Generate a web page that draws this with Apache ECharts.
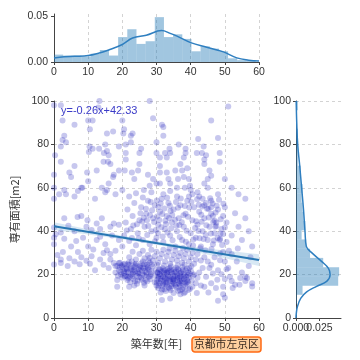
<!DOCTYPE html>
<html><head><meta charset="utf-8">
<script src="https://cdn.jsdelivr.net/npm/echarts@6/dist/echarts.min.js"></script>
<style>html,body{margin:0;padding:0;background:#fff}#c{width:360px;height:360px}</style>
</head><body><div id="c"></div>
<script>
// ---- data ----
const xTicks = [0, 10, 20, 30, 40, 50, 60];
const yTicks = [0, 20, 40, 60, 80, 100];
const regressionText = 'y=-0.26x+42.33';
const regX = [0, 60];
const regY = [42.33, 26.73];
const bandX = [0, 10, 20, 30, 40, 50, 60];
const bandLow = [40.5, 38.5, 36.3, 33.8, 30.9, 27.5, 24.0];
const bandHigh = [44.1, 40.9, 37.9, 35.2, 32.9, 31.1, 29.4];
const topBinEdges = [0,2.68,5.36,8.05,10.73,13.41,16.09,18.77,21.45,24.14,26.82,29.5,32.18,34.86,37.55,40.23,42.91,45.59,48.27,50.95,53.64,56.32,59];
const topDensity = [0.008,0.007,0.007,0.006,0.009,0.013,0.007,0.027,0.0355,0.0196,0.0225,0.0486,0.027,0.030,0.025,0.0116,0.017,0.0145,0.0116,0.004,0.002,0.002];
const topKdeX = [0,3,6,10,13,16,20,23,27,31.5,34,36,40,44.7,49.6,53.5,57,60];
const topKdeY = [0.0043,0.0058,0.0062,0.007,0.0095,0.013,0.019,0.026,0.029,0.034,0.031,0.028,0.021,0.016,0.011,0.0045,0.002,0.001];
const rightBinEdges = [6.4,10.7,14.9,19.2,23.4,27.7,31.9,36.2,40.4,44.7,48.9,53.2,57.4,61.7,65.9,70.2,74.4,78.7,82.9,87.2,91.4,95.7,100];
const rightDensity = [0.001,0.007,0.045,0.046,0.029,0.015,0.011,0.006,0.010,0.008,0.007,0.006,0.007,0.005,0.005,0.002,0.002,0.002,0.002,0.001,0.001,0.002];
const rightKdeY = [0,2,5,9,12,14.6,17,20,22.9,26,30,33,40,50,60,70,80,90,100];
const rightKdeX = [0,0.0003,0.0014,0.005,0.0114,0.022,0.033,0.0364,0.0346,0.0275,0.017,0.011,0.0096,0.008,0.006,0.004,0.0018,0.0008,0.0002];
const topDensityTicks = [0, 0.05];
const rightDensityTickA = [0];
const rightDensityTickB = [0.025];

const points = [
[30,15],[30.2,17.5],[30.5,19],[30.3,21],[30.8,22.5],[31,16],[31.2,18],[31,20],[31.5,21.5],[31.7,14.5],[32,17],[32,19],[32.2,20.5],[32.5,22],[32.6,15.5],[33,18],[33,16.5],[33.2,20],[33.5,21.5],[33.6,14],[34,17],[34,19],[34.2,22],[34.5,15.5],[34.6,20.5],[35,18],[35,16],[35.2,21],[35.5,19.5],[35.6,14.5],[36,17.5],[36.1,20],[36.3,22.5],[36.5,16],[36.7,18.5],[37,15],[37,19.5],[37.2,21],[37.5,17],[37.8,14],[38,18],[38,20.5],[38.3,16.5],[38.5,22],[38.7,19],[39,15.5],[39,17.5],[39.3,21],[39.5,18.5],[39.8,13.5],[30.6,18.2],[31.4,19.3],[32.4,18.6],[33.4,19.1],[34.3,18.1],[35.3,17.2],[36.2,19.1],[37.3,18.1],[38.2,19.6],[32.8,16.2],[34.8,16.8],[36.8,17.1],[31.8,22.9],[33.8,23],[35.8,23.2],[37.6,23.4],[39.6,23],[30.4,13.8],[32.3,13.2],[34.1,12.8],[36.4,12.5],[38.4,12],[35,11.5],[37,11],[31.2,11.8],[33.1,21],[35.7,21.6],[38.8,16.2],[30.9,20.3],[32.9,20.8],[34.9,19.3],[36.9,20.7],[39.2,19.8],[29.5,16.5],[29.6,19.5],[29.8,22],
[30.1,16.3],[30.7,14.9],[31.3,17.1],[31.9,15.8],[32.5,18.1],[33.1,15.1],[33.7,17.6],[34.3,14.7],[34.9,17.9],[35.5,15.3],[36.1,18.4],[36.7,15.7],[37.3,16.3],[37.9,19.1],[38.5,14.8],[39.1,16.8],[39.7,20.4],[40.3,17.2],[40.8,19.6],[30.3,20.8],[31.1,22.2],[32.1,21.7],[33.3,22.6],[34.4,21.3],[35.1,22.4],[36.6,21.8],[37.7,22.1],[38.9,22.8],[40.1,21.5],[31.6,13.1],[33.9,13.6],[35.9,13.9],[37.5,13.3],[39.4,12.9],[32.7,12.4],[36.9,12.8],
[18.5,24],[19,22],[19.3,25.5],[19.6,20],[20,23.5],[20,18.5],[20.4,21.5],[20.7,25],[21,19.5],[21.2,23],[21.5,17.5],[21.8,21],[22,24.5],[22.2,19],[22.5,22.5],[22.8,26],[23,20.5],[23.2,18],[23.5,23.5],[23.8,21.5],[24,25],[24.2,19.5],[24.5,17.2],[24.8,22.5],[25,20.5],[25.2,24],[25.5,18.5],[25.8,21.8],[26,26],[26.2,23],[26.5,19.5],[26.8,17.5],[27,21],[27.2,24.5],[27.5,22.5],[27.8,19],[28,25.5],[28.2,17.8],[28.5,21.5],[28.8,23.8],[19.8,24.2],[21.6,24.8],[23.6,24.6],[25.6,25.2],[27.6,26.4],[20.6,19.2],[22.6,20.1],[24.6,20.6],[26.6,21.7],[28.4,20.2],[18.7,19.5],[22.3,16.5],[24.3,15.8],[26.3,16.2],[21.4,22.3],[23.4,22.1],[25.4,22.9],[27.4,23.3],
[19.2,23.3],[20.3,24.6],[21.1,21.2],[21.9,25.6],[22.4,23.2],[23.1,19.3],[23.9,24.1],[24.4,21.1],[25.1,23.4],[25.9,20.2],[26.4,24.8],[27.1,19.9],[27.9,22.1],[28.6,24.6],[20.8,22.6],[22.9,21.9],[24.9,18.8],[26.9,23.7],[28.1,19.3],[19.5,21.1],[21.7,18.3],[23.7,17.1],[25.7,17.6],[27.3,16.9],
[22,28],[23,30.5],[24,27],[25,29.5],[26,31],[26.5,27.5],[27.5,29],[28.5,31.5],[29,26.5],[29.5,28.5],[30,30.5],[30.5,25.5],[31,27.5],[31.5,29.5],[32,31.5],[32.5,26],[33,28.5],[33.5,30.5],[34,25],[34.5,27],[35,29],[35.5,31],[36,26.5],[36.5,28.5],[37,30],[37.5,25.5],[38,27.5],[38.5,29.5],[39,31.5],[39.5,26],[40,28],[40.5,30],[41,25],[41.5,27],[42,29.5],[30.2,24.5],[32.2,24.2],[34.2,23.8],[36.2,24.3],[38.2,24.6],[40.2,23.8],[28,27.8],[33.8,32],[37.8,32.2],
[20,33],[20.5,38],[21,44],[21.5,50],[22,35.5],[22.5,41],[23,47],[23.5,53],[24,33.5],[24.5,39],[25,45],[25.5,51],[26,36],[26.5,42],[27,48],[27.5,54],[28,34],[28.5,40],[29,46],[29.5,52],[30,37],[30.5,43],[31,49],[31.5,55],[32,35],[32.5,41],[33,47],[33.5,53],[34,38],[34.5,44],[35,50],[35.5,33],[36,40],[36.5,46],[37,52],[37.5,36],[38,42],[38.5,48],[39,54],[39.5,34],[40,39],[40.5,45],[41,51],[41.5,37],[42,43],[42.5,49],[43,33],[43.5,40],[44,46],[44.5,53],[45,36],[45.5,42],[46,48],[46.5,34],[47,39],[47.5,44],[48,50],[48.5,36],[49,41],[49.5,47],
[25.8,44.5],[26.3,46.2],[27.2,45],[28.1,47.3],[29.3,44.2],[30.2,46.8],[30.8,45.2],[31.7,47.9],[32.6,44.8],[33.7,46.1],[34.6,47.5],[35.4,45.3],[26.9,50.4],[28.7,49.6],[30.6,51.2],[32.3,50.5],[34.1,49.3],[36.3,50.8],[24.3,43.2],[27.6,42.4],[29.8,40.6],[31.4,41.8],[33.2,39.4],[35.8,42.6],[37.4,44.1],[39.2,46.7],[41.3,41.5],[43.2,44.4],[45.3,46.3],[47.2,42.1],[24.8,36.8],[27.3,38.2],[29.6,35.4],[31.8,37.6],[34.7,35.8],[36.8,37.3],[38.6,35.1],[40.7,33.4],[42.6,36.7],[44.4,38.3],[46.8,35.7],[48.7,38.8],[23.2,42.6],[22.8,36.9],[21.3,40.3],[25.3,48.3],[38.3,51.6],[40.2,53.4],[42.4,52.2],[44.8,50.4],[46.4,52.8],[48.3,54.5],[28.3,53.5],[30.1,54.2],
[40.8,36.2],[41.6,44.6],[42.3,40.1],[43.1,47.6],[43.8,36.4],[44.6,42.7],[45.2,50.3],[45.9,38.9],[46.6,44.2],[47.3,48.6],[47.9,36.9],[48.8,45.5],[49.6,52.6],[41.9,54.7],[43.4,51.4],[45.7,55.2],[47.6,51.7],[49.2,33.6],[46.1,31.8],[44.3,31.2],[42.8,32.1],
[30.4,39.2],[31.2,52.8],[32.8,43.3],[33.9,51.7],[34.3,41.4],[35.7,53.5],[36.7,42.9],[37.9,47.4],[38.8,40.2],[39.6,50.9],[37.1,55.1],[33.1,55.4],
[40.5,14.4],[41.5,16],[42,18.5],[42.5,21],[43,15],[43.5,23],[44,14.4],[44.5,19],[45,26],[45.5,23],[46,16],[46.5,20.5],[47,28],[47.4,13.8],[48,8],[48.6,26.6],[48.6,29.7],[49.5,30.4],[49.5,11],[49.5,14.4],[50,9.3],[50,18],[50.5,22.5],[51,23],[51.5,19],[52,17],[52,29.4],[52.3,13.8],[53,15.3],[53.5,26],[54.3,15.3],[54.5,18.4],[55,21],[56,19],[56,17],[56.5,18.4],[57,24],[57.5,28],[58,16],[58,14.5],[41,20],[43,26.5],[44,28],[46,24.5],[48,22],[50,26],[41.8,11.5],[45.2,11.8],[47.8,17.6],[49,20.2],[51.2,31],[53.8,32],[31.6,8.3],[34,9],[38,11.4],
[0,34],[0,37],[3,36.5],[2.6,30.4],[4.5,27.5],[2,25.4],[2,27],[0,24.6],[7,30.4],[8,28],[7.5,24.8],[9.5,26.4],[10.5,25],[11,28.5],[11.5,31.6],[12.5,36],[13.5,37.5],[13.5,27],[14.5,30],[15.5,31.2],[16.5,27],[17.5,25.4],[16,23],[18,24],[19,25.4],[18,21],[20.5,20.6],[18.5,17.5],[18.5,14.4],[21.5,19],[22,14.4],[23.5,15],[26.5,15],[3,46],[6.9,46.5],[8,47],[9.8,45],[9.5,42],[12.5,43.5],[13.5,41],[14,46],[16.5,42],[17.5,43.5],[19,43],[0,41.7],[0.5,38.6],[2,39.4],[5,33],[6,40],[15,34],[17,38],[18,31],[19,36],[1,29],[4,24],[6,26],[12,22],[14.5,24.5],[16.5,29.5],[10,33],[8.5,37],[11,40.5],[4.2,42.5],[6.5,35.5],
[0,98],[2,98],[2.5,91],[3,84],[2.5,82],[3.5,81],[6,89],[2,79],[2,72],[0.3,75],[6,70],[4.5,67],[5,65],[10,91],[11.3,91],[13.3,100],[13,97],[10.5,87],[10.4,79],[11.3,78],[13.2,78],[10.2,76.5],[12.5,68],[9.7,67],[10,63],[8,60],[7,58.5],[8.3,60],[0,66],[0,60],[3,59],[3.5,57],[1.5,57],[0,55],[6,56],[12,55],[14,60],[14.5,72],[15.5,85],[17.3,86],[15,80],[15.5,77],[16,75],[15.8,72],[16.5,71],[14.6,76],[20,91],[20.5,87],[20.3,85],[21,80],[19,79],[21,76],[21,73],[22.5,84],[23,85],[22.5,81],[19,68],[20.7,68],[17.5,66],[17.3,65],[16,62],[15.5,59],[15,58],[20,59],[22.8,67],[23.5,64],[24.6,68],[25,76],[25.5,78],[25,71],[28,100],[29,92],[31.6,89],[32,88],[30,81],[32,84],[30,76],[31,74],[32.5,76],[33,74],[33.8,78],[34,76],[31,70],[31,67],[30,62],[28.5,58],[26.3,59],[27.5,66],[29,64],[31,62],[33,67],[33.5,64],[34,62],[35.5,68],[36,60],[36.3,64],[36.5,80],[38.5,78],[38.5,76],[38,74],[37,71],[37.5,68],[39,69],[38,65],[39.5,64],[38.3,60],[39.8,61],[40,59],[40.5,57],[39.5,56],[42.2,82.5],[43.8,79],[41.8,76],[43.3,76],[44.5,75],[44,73],[44,71],[45.5,68],[46,65.5],[45,64],[44,62],[45,60],[42,58],[42.5,56],[43.5,55],[46,91],[48,83],[48.5,76],[48.5,72],[48,57],[51,97.5],[56,55],[46,54],[44,52],[46,51],[50,51],
[22,56],[24,57.5],[26,55.5],[32,57],[34,58.5],[36,56],[28,61],[18,57],[52,60],[50,64],[54,57],
[48.6,36.4],[49.5,38.7],[50,41.7],[50.5,44],[47.5,42.4],[47,44.8],[46.5,47],[53,48.3],[50.5,35],[52,38],[54,42],[55,36],[57,40],[56,46],[58,33]
];

// ---- chart ----
const chart = echarts.init(document.getElementById('c'), null, {renderer: 'canvas'});
const axisColor = '#444';
const labelStyle = {color: '#333', fontSize: 10.5};
const dashed = {show: true, lineStyle: {color: '#c8c8c8', type: [3, 3], width: 0.8}};
const histFill = 'rgba(31,119,180,0.42)';
const kdeColor = '#2f7fc0';

const topRows = topDensity.map((d, i) => [topBinEdges[i], topBinEdges[i + 1], d]);
const rightRows = rightDensity.map((d, i) => [rightBinEdges[i], rightBinEdges[i + 1], d]);
const bandRows = bandX.map((x, i) => [x, bandLow[i], bandHigh[i]]);

function baseAxis(extra) {
  return Object.assign({
    type: 'value',
    axisLine: {show: true, onZero: false, lineStyle: {color: axisColor, width: 1}},
    axisTick: {show: true, length: 3, inside: false, lineStyle: {color: axisColor}},
    axisLabel: Object.assign({margin: 5, showMinLabel: true}, labelStyle),
    splitLine: {show: false}
  }, extra);
}
function densityAxis(ticks, showLine) {
  return baseAxis({gridIndex: 2, min: 0, max: 0.048, position: 'bottom', offset: 0,
    axisLine: {show: showLine, onZero: false, lineStyle: {color: axisColor, width: 1}},
    axisLabel: Object.assign({margin: 5, showMinLabel: true, showMaxLabel: true, customValues: ticks, formatter: v => v.toFixed(3)}, labelStyle),
    axisTick: {show: true, length: 3, customValues: ticks, lineStyle: {color: axisColor}}});
}

const option = {
  animation: false,
  backgroundColor: '#fff',
  textStyle: {fontFamily: "'Liberation Sans', 'Noto Sans CJK JP', sans-serif"},
  title: [{
    text: '京都市左京区', left: 192, top: 337,
    padding: [2, 2], backgroundColor: '#ffcf9e', borderColor: '#ff6a13', borderWidth: 1.5, borderRadius: 3,
    textStyle: {fontSize: 10.8, fontWeight: 'normal', color: '#3a2a20', fontFamily: "'Noto Sans CJK JP', sans-serif"}
  }, {
    text: regressionText, left: 61, top: 105, padding: 0,
    textStyle: {fontSize: 11, fontWeight: 'normal', color: '#3b3bc8'}
  }],
  grid: [
    {left: 54, top: 101, width: 205, height: 217},
    {left: 54, top: 14, width: 205, height: 48},
    {left: 296, top: 101, width: 45, height: 217}
  ],
  xAxis: [
    baseAxis({gridIndex: 0, min: xTicks[0], max: xTicks[xTicks.length - 1], interval: 10, splitLine: dashed,
      name: '築年数[年]', nameLocation: 'middle', nameGap: 20,
      nameTextStyle: {fontSize: 11, color: '#333', fontFamily: "'Noto Sans CJK JP', sans-serif"}}),
    baseAxis({gridIndex: 1, min: xTicks[0], max: xTicks[xTicks.length - 1], interval: 10, splitLine: dashed}),
    densityAxis(rightDensityTickB, true),
    densityAxis(rightDensityTickA, false)
  ],
  yAxis: [
    baseAxis({gridIndex: 0, min: yTicks[0], max: yTicks[yTicks.length - 1], interval: 20, splitLine: dashed,
      name: '専有面積[m2]', nameLocation: 'middle', nameGap: 32,
      nameTextStyle: {fontSize: 11, color: '#333', fontFamily: "'Noto Sans CJK JP', sans-serif"}}),
    baseAxis({gridIndex: 1, min: 0, max: 0.052,
      axisLabel: Object.assign({margin: 6, showMinLabel: true, customValues: topDensityTicks, formatter: v => v.toFixed(2)}, labelStyle),
      axisTick: {show: true, length: 3, customValues: topDensityTicks, lineStyle: {color: axisColor}}}),
    baseAxis({gridIndex: 2, min: yTicks[0], max: yTicks[yTicks.length - 1], interval: 20, splitLine: dashed})
  ],
  series: [
    {
      type: 'scatter', xAxisIndex: 0, yAxisIndex: 0, data: points, symbolSize: 6, silent: true,
      itemStyle: {color: 'rgba(25,25,185,0.3)'}, z: 2
    },
    {
      type: 'custom', xAxisIndex: 0, yAxisIndex: 0, data: bandRows, encode: {x: 0, y: [1, 2]}, silent: true, z: 3,
      renderItem: function (params, api) {
        if (params.dataIndex !== 0) return null;
        const up = bandRows.map(r => api.coord([r[0], r[2]]));
        const lo = bandRows.slice().reverse().map(r => api.coord([r[0], r[1]]));
        return {type: 'polygon', shape: {points: up.concat(lo)}, style: {fill: 'rgba(60,140,200,0.2)'}};
      }
    },
    {
      type: 'line', xAxisIndex: 0, yAxisIndex: 0, data: regX.map((x, i) => [x, regY[i]]), symbol: 'none', silent: true,
      lineStyle: {color: '#2877b3', width: 2}, z: 4
    },
    {
      type: 'custom', xAxisIndex: 1, yAxisIndex: 1, data: topRows, encode: {x: [0, 1], y: 2}, silent: true,
      renderItem: function (params, api) {
        const p0 = api.coord([api.value(0), api.value(2)]);
        const p1 = api.coord([api.value(1), 0]);
        return {type: 'rect', shape: {x: p0[0], y: p0[1], width: p1[0] - p0[0], height: p1[1] - p0[1]}, style: {fill: histFill}};
      }
    },
    {
      type: 'line', xAxisIndex: 1, yAxisIndex: 1, data: topKdeX.map((x, i) => [x, topKdeY[i]]), symbol: 'none', smooth: 0.4,
      silent: true, lineStyle: {color: kdeColor, width: 1.5}, z: 4
    },
    {
      type: 'custom', xAxisIndex: 2, yAxisIndex: 2, data: rightRows, encode: {y: [0, 1], x: 2}, silent: true,
      renderItem: function (params, api) {
        const pTop = api.coord([api.value(2), api.value(1)]);
        const pBot = api.coord([0, api.value(0)]);
        return {type: 'rect', shape: {x: pBot[0], y: pTop[1], width: pTop[0] - pBot[0], height: pBot[1] - pTop[1]}, style: {fill: histFill}};
      }
    },
    {
      type: 'line', xAxisIndex: 2, yAxisIndex: 2, data: rightKdeY.map((y, i) => [rightKdeX[i], y]), symbol: 'none', smooth: 0.4,
      silent: true, lineStyle: {color: kdeColor, width: 1.5}, z: 4
    }
  ]
};
chart.setOption(option);
</script>
</body></html>
